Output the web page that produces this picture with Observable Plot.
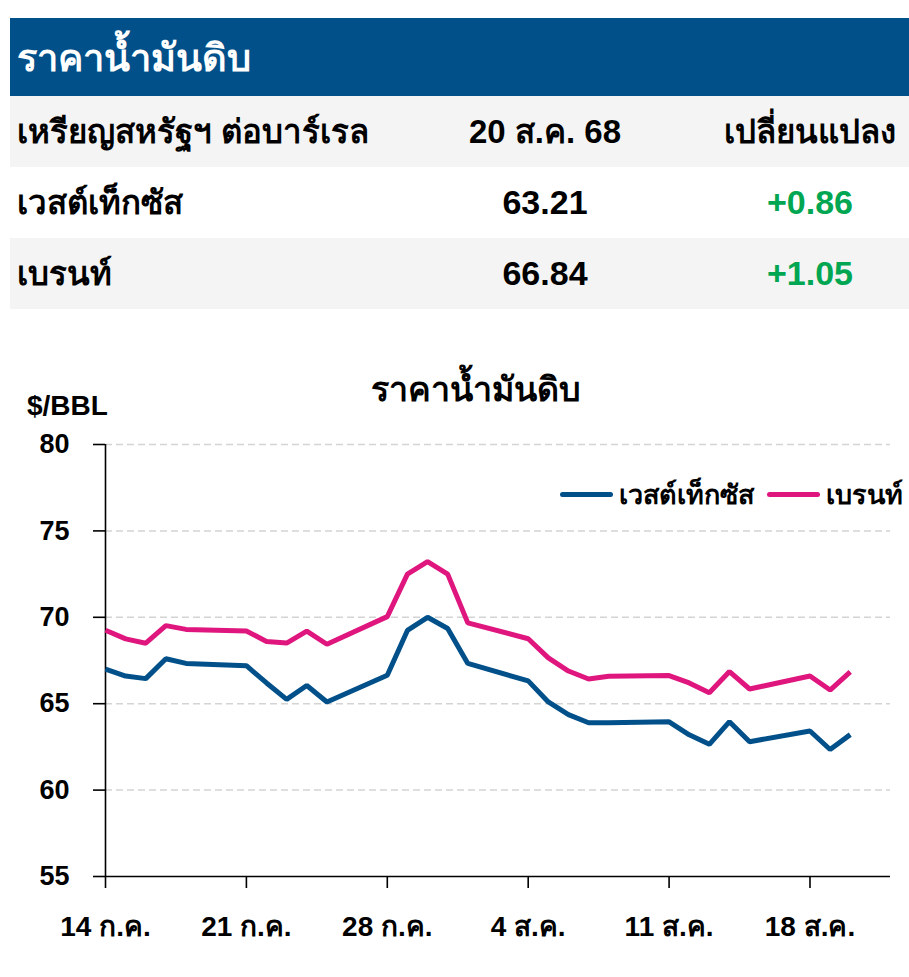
<!DOCTYPE html>
<html>
<head>
<meta charset="utf-8">
<script src="https://cdn.jsdelivr.net/npm/d3@7"></script>
<script src="https://cdn.jsdelivr.net/npm/@observablehq/plot@0.6"></script>
<style>
  html, body { margin: 0; padding: 0; background: #fff; }
  body { width: 909px; height: 977px; position: relative; overflow: hidden;
         font-family: "Liberation Sans", "Noto Sans", sans-serif; font-weight: bold; color: #000; }
  #tbl { position: absolute; left: 10px; top: 18px; width: 899px; }
  .hdr { height: 78px; background: #02508a; color: #fff; font-size: 38px; display: flex; align-items: center; padding-left: 7px; }
  .row { height: 71px; display: flex; align-items: center; font-size: 33px; }
  .row.g { background: #f4f4f4; }
  .c1 { width: 420px; padding-left: 7px; }
  .c2 { position: absolute; left: 445px; width: 180px; text-align: center; }
  .c3 { position: absolute; left: 700px; width: 200px; text-align: center; }
  .num { font-size: 34px; }
  .up { color: #00a651; }
  #chart { position: absolute; left: 0; top: 320px; }
  #ctitle { position: absolute; top: 362px; left: 0; width: 952px; text-align: center; font-size: 34px; }
  #unit { position: absolute; top: 390px; left: 27px; font-size: 28px; }
  #legend { position: absolute; top: 473px; left: 560px; display: flex; align-items: center; font-size: 27px; white-space: nowrap; }
  .sw { display: inline-block; width: 53px; height: 5px; border-radius: 3px; margin-right: 6px; }
</style>
</head>
<body>
<div id="tbl"></div>
<div id="chart"></div>
<div id="ctitle"></div>
<div id="unit"></div>
<div id="legend"></div>
<script>
// ---- data ----
const tableTitle = "ราคาน้ำมันดิบ";
const tableHeader = ["เหรียญสหรัฐฯ ต่อบาร์เรล", "20 ส.ค. 68", "เปลี่ยนแปลง"];
const tableNames = ["เวสต์เท็กซัส", "เบรนท์"];
const tablePrices = ["63.21", "66.84"];
const tableChanges = ["+0.86", "+1.05"];

const chartTitle = "ราคาน้ำมันดิบ";
const unitLabel = "$/BBL";
const seriesNames = ["เวสต์เท็กซัส", "เบรนท์"];
const seriesColors = ["#02508a", "#e0167f"];

const dates = ["2025-07-14","2025-07-15","2025-07-16","2025-07-17","2025-07-18",
  "2025-07-21","2025-07-22","2025-07-23","2025-07-24","2025-07-25",
  "2025-07-28","2025-07-29","2025-07-30","2025-07-31","2025-08-01",
  "2025-08-04","2025-08-05","2025-08-06","2025-08-07","2025-08-08",
  "2025-08-11","2025-08-12","2025-08-13","2025-08-14","2025-08-15",
  "2025-08-18","2025-08-19","2025-08-20"];
const wti = [67.0, 66.6, 66.45, 67.6, 67.33,
  67.2, 66.2, 65.25, 66.05, 65.1,
  66.65, 69.24, 70.0, 69.35, 67.33,
  66.32, 65.1, 64.37, 63.9, 63.9,
  63.95, 63.2, 62.65, 63.96, 62.8,
  63.42, 62.35, 63.21];
const brent = [69.25, 68.75, 68.5, 69.52, 69.3,
  69.21, 68.6, 68.51, 69.2, 68.44,
  70.04, 72.5, 73.22, 72.5, 69.68,
  68.76, 67.65, 66.89, 66.43, 66.59,
  66.63, 66.2, 65.63, 66.86, 65.85,
  66.6, 65.79, 66.84];

const xTicks = ["2025-07-14","2025-07-21","2025-07-28","2025-08-04","2025-08-11","2025-08-18"];
const xTickLabels = ["14 ก.ค.", "21 ก.ค.", "28 ก.ค.", "4 ส.ค.", "11 ส.ค.", "18 ส.ค."];
const xDomain = ["2025-07-14", "2025-08-22"];
const yTicks = [55, 60, 65, 70, 75, 80];
const yDomain = [55, 80];

// ---- table ----
const parse = s => new Date(s + "T00:00:00Z");
const tbl = document.getElementById("tbl");
tbl.innerHTML =
  `<div class="hdr">${tableTitle}</div>` +
  `<div class="row g"><span class="c1">${tableHeader[0]}</span><span class="c2">${tableHeader[1]}</span><span class="c3">${tableHeader[2]}</span></div>` +
  tableNames.map((n, i) =>
    `<div class="row ${i % 2 ? "g" : ""}"><span class="c1">${n}</span><span class="c2 num">${tablePrices[i]}</span><span class="c3 num up">${tableChanges[i]}</span></div>`
  ).join("");

document.getElementById("ctitle").textContent = chartTitle;
document.getElementById("unit").textContent = unitLabel;
document.getElementById("legend").innerHTML = seriesNames.map((n, i) =>
  `<span class="sw" style="background:${seriesColors[i]}"></span><span style="margin-right:${i === 0 ? 13 : 0}px">${n}</span>`).join("");

// ---- chart ----
const rows = [];
dates.forEach((d, i) => {
  rows.push({date: parse(d), value: wti[i], series: seriesNames[0]});
  rows.push({date: parse(d), value: brent[i], series: seriesNames[1]});
});
const tickDates = xTicks.map(parse);

const chart = Plot.plot({
  width: 909,
  height: 657,
  marginTop: 124,
  marginBottom: 101,
  marginLeft: 105,
  marginRight: 19,
  style: {fontFamily: "'Liberation Sans', 'Noto Sans', sans-serif", fontWeight: "bold", color: "#000", background: "transparent"},
  x: {type: "utc", domain: xDomain.map(parse)},
  y: {domain: yDomain},
  color: {domain: seriesNames, range: seriesColors},
  marks: [
    Plot.gridY(yTicks.slice(1), {stroke: "#d4d4d4", strokeOpacity: 1, strokeWidth: 1.5, strokeDasharray: "7,4"}),
    Plot.axisY(yTicks, {tickSize: 12, tickPadding: 24, fontSize: 27, label: null, stroke: "#000", strokeWidth: 1.6}),
    Plot.axisX(tickDates, {tickSize: 12, tickPadding: 28, fontSize: 28, label: null,
      tickFormat: (d) => xTickLabels[tickDates.findIndex(t => +t === +d)], stroke: "#000", strokeWidth: 1.6}),
    Plot.ruleX([parse(xDomain[0])], {stroke: "#000", strokeWidth: 1.6}),
    Plot.ruleY([yDomain[0]], {stroke: "#000", strokeWidth: 1.6}),
    Plot.line(rows, {x: "date", y: "value", z: "series", stroke: "series", strokeWidth: 5, strokeLinejoin: "miter", strokeLinecap: "butt"})
  ]
});
document.getElementById("chart").appendChild(chart);
</script>
</body>
</html>
